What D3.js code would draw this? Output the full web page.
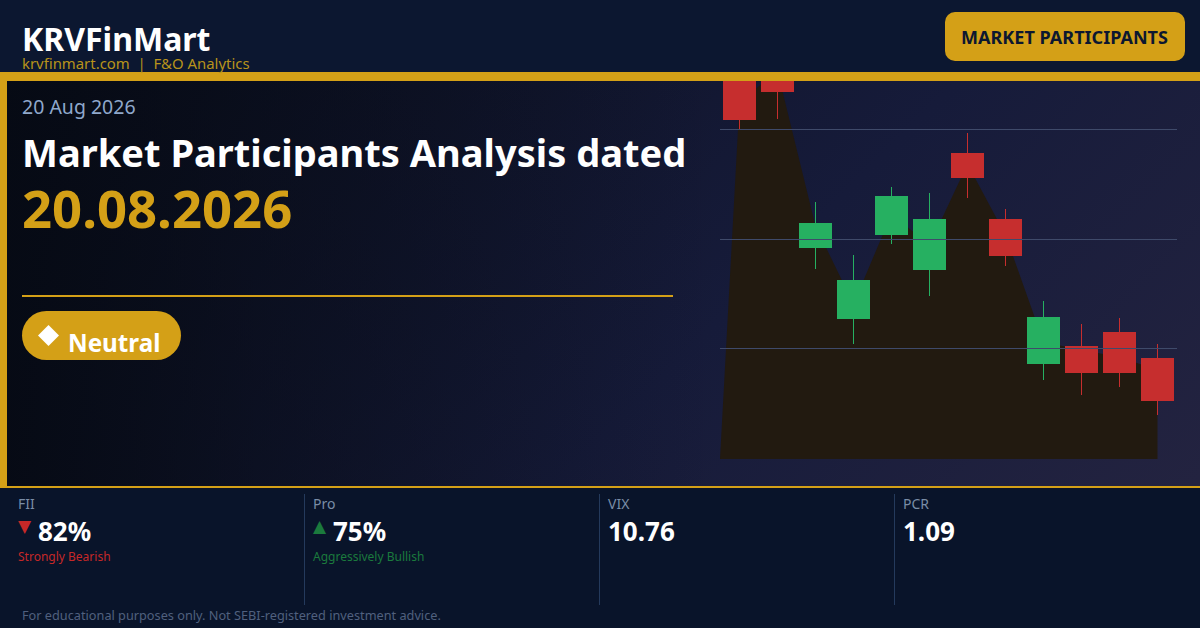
<html>
<meta charset="utf-8">

<head>
    <script src="https://d3js.org/d3.v7.min.js"></script>
    <style>
        html, body {
            margin: 0;
            padding: 0;
            background: #09142a;
            overflow: hidden;
        }

        text {
            font-family: "Noto Sans", sans-serif;
        }

        .grid .domain {
            display: none;
        }

        .grid line {
            stroke: #3f4a6a;
        }
    </style>
</head>

<body>
    <svg id="card" width="1200" height="628"></svg>

    <script>
        // candles (price units, the panel floor is 0)
        const sessions = [1, 2, 3, 4, 5, 6, 7, 8, 9, 10, 11, 12];
        const opens = [339, 367, 211, 140, 224, 189, 281, 203, 95, 86, 86, 58];
        const closes = [420, 400, 236, 179, 263, 240, 306, 240, 142, 113, 127, 101];
        const highs = [430, 410, 257, 204, 272, 266, 326, 250, 158, 135, 141, 115];
        const lows = [330, 340, 190, 115, 215, 163, 261, 193, 79, 64, 72, 44];
        const shade = [357, 388, 233, 155, 245, 214, 295, 224, 117, 109, 102, 89];
        const gridLevels = [111, 220, 330];

        const stats = [
            { label: 'FII', value: '82%', arrow: '▼', note: 'Strongly Bearish', tone: '#c62828' },
            { label: 'Pro', value: '75%', arrow: '▲', note: 'Aggressively Bullish', tone: '#1b7a3d' },
            { label: 'VIX', value: '10.76' },
            { label: 'PCR', value: '1.09' }
        ];

        const gold = '#d4a017';
        const svg = d3.select('svg#card');
        const defs = svg.append('defs');

        const heroGrad = defs.append('linearGradient').attr('id', 'heroGrad')
            .attr('gradientUnits', 'userSpaceOnUse')
            .attr('x1', 200).attr('y1', -120).attr('x2', 1000).attr('y2', 680);
        heroGrad.append('stop').attr('offset', '0%').attr('stop-color', '#0a0e1c');
        heroGrad.append('stop').attr('offset', '60%').attr('stop-color', '#161b3a');
        heroGrad.append('stop').attr('offset', '100%').attr('stop-color', '#232340');

        // the left column sits on a dark veil that fades out before the chart
        const veilGrad = defs.append('linearGradient').attr('id', 'veilGrad')
            .attr('gradientUnits', 'userSpaceOnUse')
            .attr('x1', 7).attr('y1', 0).attr('x2', 720).attr('y2', 0);
        veilGrad.append('stop').attr('offset', '0%').attr('stop-color', '#060a14').attr('stop-opacity', 0.95);
        veilGrad.append('stop').attr('offset', '35%').attr('stop-color', '#060a14').attr('stop-opacity', 0.5);
        veilGrad.append('stop').attr('offset', '100%').attr('stop-color', '#060a14').attr('stop-opacity', 0);

        defs.append('clipPath').attr('id', 'heroClip').append('rect')
            .attr('x', 7).attr('y', 81).attr('width', 1193).attr('height', 405);

        // page blocks
        svg.append('rect').attr('width', 1200).attr('height', 72).attr('fill', '#0c1730');
        svg.append('rect').attr('y', 81).attr('width', 1200).attr('height', 405).attr('fill', 'url(#heroGrad)');
        svg.append('rect').attr('x', 7).attr('y', 81).attr('width', 713).attr('height', 405).attr('fill', 'url(#veilGrad)');
        svg.append('rect').attr('y', 488).attr('width', 1200).attr('height', 140).attr('fill', '#09142a');
        svg.append('rect').attr('y', 72).attr('width', 1200).attr('height', 9).attr('fill', gold);
        svg.append('rect').attr('y', 81).attr('width', 7).attr('height', 405).attr('fill', gold);
        svg.append('rect').attr('y', 486).attr('width', 1200).attr('height', 2).attr('fill', gold);

        // header
        svg.append('text').text('KRVFinMart').attr('x', 22).attr('y', 51)
            .attr('font-size', 32).attr('font-weight', 700).attr('fill', '#fff');
        svg.append('text').text('krvfinmart.com  |  F&O Analytics').attr('x', 22).attr('y', 69)
            .attr('font-size', 14.9).attr('fill', '#b8931b').attr('xml:space', 'preserve');
        svg.append('rect').attr('x', 945).attr('y', 12).attr('width', 240).attr('height', 49)
            .attr('rx', 10).attr('fill', gold);
        svg.append('text').text('MARKET PARTICIPANTS').attr('x', 1064.5).attr('y', 44)
            .attr('text-anchor', 'middle').attr('font-size', 18.05).attr('font-weight', 700).attr('fill', '#0c1730');

        // candle chart
        const chart = svg.append('g').attr('clip-path', 'url(#heroClip)');
        const x = d3.scalePoint().domain(sessions).range([739.5, 1157.5]);
        const y = d3.scaleLinear().domain([0, 378]).range([459, 81]);
        const bodyWidth = 33;

        const shadePoints = [[720, 0]]
            .concat(sessions.map((s, i) => [x(s), shade[i]]))
            .concat([[x(12), 0]]);
        const shadeLine = d3.line().x(d => d[0]).y(d => y(d[1]));
        chart.append('path').attr('d', shadeLine(shadePoints) + 'Z').attr('fill', '#221a10');

        const candles = chart.selectAll('g.candle').data(sessions).join('g').attr('class', 'candle');
        const upColor = '#26b061';
        const downColor = '#c62e2e';
        const candleColor = (d, i) => [2, 3, 4, 5, 8].includes(i) ? upColor : downColor;

        candles.append('line')
            .attr('x1', d => x(d)).attr('x2', d => x(d))
            .attr('y1', (d, i) => y(highs[i])).attr('y2', (d, i) => y(lows[i]))
            .attr('stroke', candleColor).attr('stroke-width', 1);
        candles.append('rect')
            .attr('x', d => x(d) - bodyWidth / 2).attr('width', bodyWidth)
            .attr('y', (d, i) => y(closes[i]))
            .attr('height', (d, i) => y(opens[i]) - y(closes[i]))
            .attr('fill', candleColor);

        const gridAxis = d3.axisLeft(y).tickValues(gridLevels).tickSize(-457).tickFormat('');
        svg.append('g').attr('class', 'grid')
            .attr('transform', 'translate(720,0)')
            .call(gridAxis);

        // left column
        svg.append('text').text('20 Aug 2026').attr('x', 22).attr('y', 114)
            .attr('font-size', 19.5).attr('fill', '#8fa8cc');
        svg.append('text').text('Market Participants Analysis dated').attr('x', 22).attr('y', 167)
            .attr('font-size', 38.05).attr('font-weight', 700).attr('fill', '#fff');
        svg.append('text').text('20.08.2026').attr('x', 22).attr('y', 227.5)
            .attr('font-size', 52.6).attr('font-weight', 700).attr('fill', gold);
        svg.append('rect').attr('x', 22).attr('y', 295).attr('width', 651).attr('height', 2).attr('fill', gold);
        svg.append('rect').attr('x', 22).attr('y', 311).attr('width', 159).attr('height', 49)
            .attr('rx', 24.5).attr('fill', gold);
        svg.append('path')
            .attr('d', d3.symbol(d3.symbolDiamond2, 281)())
            .attr('transform', 'translate(48.5,335.5)').attr('fill', '#fff');
        svg.append('text').text('Neutral').attr('x', 68).attr('y', 352)
            .attr('font-size', 24.2).attr('font-weight', 700).attr('fill', '#fff');

        // stats strip
        const statX = d3.scalePoint().domain(d3.range(4)).range([18, 903]);
        const statG = svg.selectAll('g.stat').data(stats).join('g').attr('class', 'stat')
            .attr('transform', (d, i) => `translate(${statX(i)},0)`);
        statG.append('text').text(d => d.label).attr('y', 509)
            .attr('font-size', 14).attr('fill', '#7a8da6');
        statG.append('text').text(d => d.arrow || '').attr('y', 532)
            .attr('font-size', 17).attr('fill', d => d.tone || 'none')
            .style('font-family', '"DejaVu Sans"');
        statG.append('text').text(d => d.value).attr('x', d => d.arrow ? 20 : 0).attr('y', 541)
            .attr('font-size', 26).attr('font-weight', 700).attr('fill', '#fff');
        statG.append('text').text(d => d.note || '').attr('y', 561)
            .attr('font-size', 12).attr('fill', d => d.tone || 'none');
        statG.filter((d, i) => i < 3).append('rect')
            .attr('x', 286).attr('y', 494).attr('width', 1).attr('height', 111).attr('fill', '#243a5c');

        svg.append('text').text('For educational purposes only. Not SEBI-registered investment advice.')
            .attr('x', 22).attr('y', 620).attr('font-size', 12.73).attr('fill', '#50607e');
    </script>
</body>

</html>
